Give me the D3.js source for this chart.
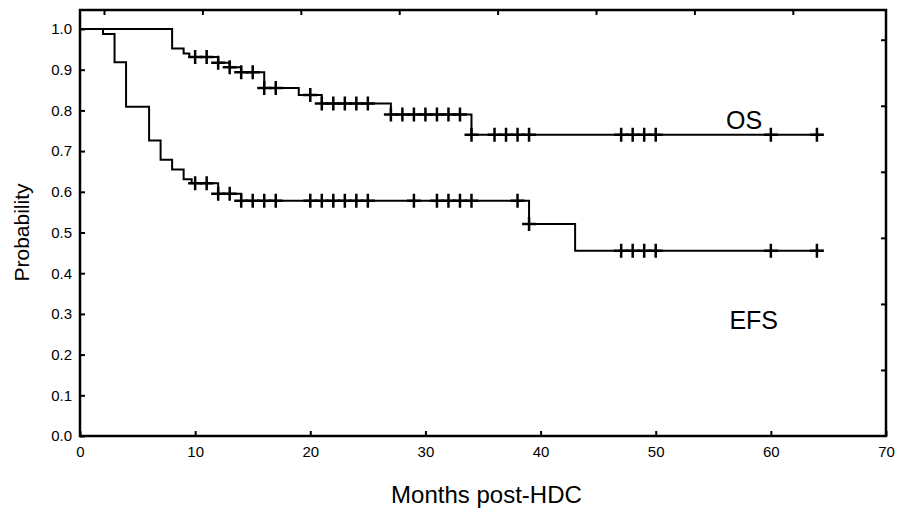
<!DOCTYPE html>
<html>
<head>
<meta charset="utf-8">
<script src="https://cdn.jsdelivr.net/npm/d3@7"></script>
<style>
  body { margin: 0; background: #fff; }
  svg { display: block; }
</style>
</head>
<body>
<svg id="chart"></svg>
<script>
// Kaplan-Meier steps: event time (months) and survival after it
const osEventTimes = [8, 9, 9.5, 12, 13, 14, 16, 19, 21, 27, 34];
const osSurvival = [0.952, 0.940, 0.931, 0.917, 0.906, 0.894, 0.855, 0.838, 0.817, 0.790, 0.740];
const osCensorTimes = [10, 11, 12, 13, 14, 15, 16, 17, 20, 21, 22, 23, 24, 25, 27, 28, 29, 30, 31, 32, 33, 34, 36, 37, 38, 39, 47, 48, 49, 50, 60, 64];

const efsEventTimes = [2, 3, 4, 6, 7, 8, 9, 9.7, 12, 14, 39, 43];
const efsSurvival = [0.988, 0.918, 0.809, 0.726, 0.679, 0.655, 0.631, 0.621, 0.595, 0.578, 0.521, 0.455];
const efsCensorTimes = [10, 11, 12, 13, 14, 15, 16, 17, 20, 21, 22, 23, 24, 25, 29, 31, 32, 33, 34, 38, 39, 47, 48, 49, 50, 60, 64];

const followUpEnd = 64.5;
const xTicks = [0, 10, 20, 30, 40, 50, 60, 70];
const yTicks = [0, 0.1, 0.2, 0.3, 0.4, 0.5, 0.6, 0.7, 0.8, 0.9, 1.0];
const seriesLabels = ["OS", "EFS"];

const width = 901, height = 514;
const box = {left: 80, right: 886, top: 10, bottom: 436};
const font = "Liberation Sans, Arial, sans-serif";

const svg = d3.select("#chart")
    .attr("width", width)
    .attr("height", height)
    .attr("viewBox", [0, 0, width, height]);

const x = d3.scaleLinear().domain([0, 70]).range([box.left, box.right]);
const y = d3.scaleLinear().domain([0, 1]).range([box.bottom, 29]);
// the frame's top and right edges carry their own unlabelled ticks
const xTop = d3.scaleLinear().domain([-0.244, 7.947]).range([box.left, box.right]);
const yRight = d3.scaleLinear().domain([0, 6.45]).range([box.bottom, box.top]);

function stepPoints(times, surv) {
    let pts = [[0, 1]];
    times.forEach((t, i) => pts.push([t, surv[i]]));
    pts.push([followUpEnd, surv[surv.length - 1]]);
    return pts;
}

function survivalAt(times, surv, t) {
    let s = 1;
    times.forEach((et, i) => { if (et <= t) s = surv[i]; });
    return s;
}

// bottom axis
svg.append("g")
    .attr("transform", `translate(0,${box.bottom})`)
    .call(d3.axisBottom(x).tickValues(xTicks).tickSizeInner(-5).tickSizeOuter(0).tickPadding(10))
    .call(g => g.select(".domain").remove())
    .call(g => g.selectAll("line").attr("stroke", "#000").attr("stroke-width", 2))
    .call(g => g.selectAll("text").attr("font-family", font).attr("font-size", 15).attr("fill", "#000"));

// left axis
svg.append("g")
    .attr("transform", `translate(${box.left},0)`)
    .call(d3.axisLeft(y).tickValues(yTicks).tickFormat(d3.format(".1f")).tickSizeInner(-5).tickSizeOuter(0).tickPadding(8))
    .call(g => g.select(".domain").remove())
    .call(g => g.selectAll("line").attr("stroke", "#000").attr("stroke-width", 2))
    .call(g => g.selectAll("text").attr("font-family", font).attr("font-size", 15).attr("fill", "#000"));

// top and right ticks
svg.append("g")
    .attr("transform", `translate(0,${box.top})`)
    .call(d3.axisTop(xTop).tickValues(d3.range(0, 8)).tickSizeInner(-5).tickSizeOuter(0).tickFormat(""))
    .call(g => g.select(".domain").remove())
    .call(g => g.selectAll("line").attr("stroke", "#000").attr("stroke-width", 2));

svg.append("g")
    .attr("transform", `translate(${box.right},0)`)
    .call(d3.axisRight(yRight).tickValues(d3.range(1, 7)).tickSizeInner(-5).tickSizeOuter(0).tickFormat(""))
    .call(g => g.select(".domain").remove())
    .call(g => g.selectAll("line").attr("stroke", "#000").attr("stroke-width", 2));

// frame
svg.append("rect")
    .attr("x", box.left)
    .attr("y", box.top)
    .attr("width", box.right - box.left)
    .attr("height", box.bottom - box.top)
    .attr("fill", "none")
    .attr("stroke", "#000")
    .attr("stroke-width", 2.5);

const line = d3.line()
    .x(d => x(d[0]))
    .y(d => y(d[1]))
    .curve(d3.curveStepAfter);

const curves = [
    {times: osEventTimes, surv: osSurvival, censor: osCensorTimes},
    {times: efsEventTimes, surv: efsSurvival, censor: efsCensorTimes}
];

for (let c of curves) {
    svg.append("path")
        .datum(stepPoints(c.times, c.surv))
        .attr("d", line)
        .attr("fill", "none")
        .attr("stroke", "#000")
        .attr("stroke-width", 2);

    let marks = svg.append("g");
    for (let t of c.censor) {
        let cx = x(t), cy = y(survivalAt(c.times, c.surv, t));
        marks.append("path")
            .attr("d", `M${cx - 7},${cy}H${cx + 7}M${cx},${cy - 7}V${cy + 7}`)
            .attr("stroke", "#000")
            .attr("stroke-width", 2.5)
            .attr("fill", "none");
    }
}

// series labels
svg.append("text")
    .attr("x", x(56.1))
    .attr("y", y(0.755))
    .attr("font-family", font)
    .attr("font-size", 25)
    .text(seriesLabels[0]);

svg.append("text")
    .attr("x", x(56.4))
    .attr("y", y(0.264))
    .attr("font-family", font)
    .attr("font-size", 25)
    .text(seriesLabels[1]);

// axis titles
svg.append("text")
    .attr("x", x(35.3))
    .attr("y", 503)
    .attr("text-anchor", "middle")
    .attr("font-family", font)
    .attr("font-size", 24)
    .text("Months post-HDC");

svg.append("text")
    .attr("transform", `translate(29,${y(0.5)}) rotate(-90)`)
    .attr("text-anchor", "middle")
    .attr("font-family", font)
    .attr("font-size", 21)
    .text("Probability");
</script>
</body>
</html>
